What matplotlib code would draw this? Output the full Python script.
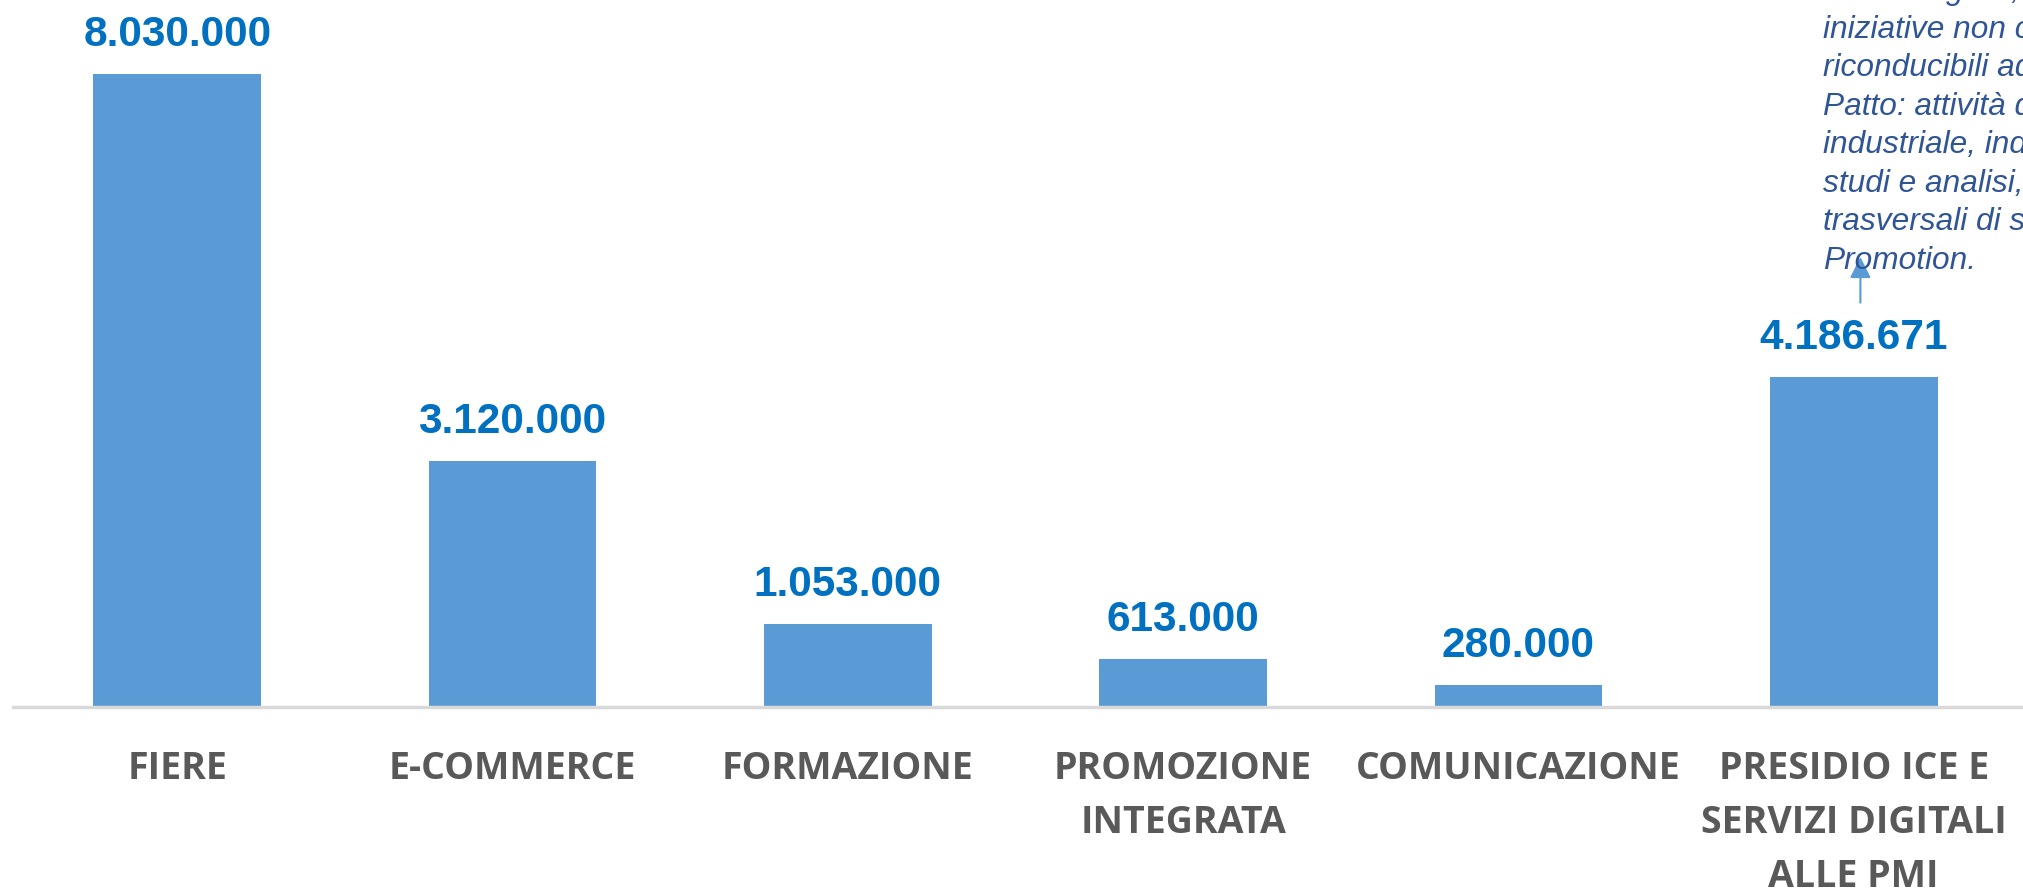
import matplotlib
matplotlib.use('Agg')
import matplotlib.pyplot as plt

categorie = ['FIERE', 'E-COMMERCE', 'FORMAZIONE', 'PROMOZIONE\nINTEGRATA',
             'COMUNICAZIONE', 'PRESIDIO ICE E\nSERVIZI DIGITALI\nALLE PMI']
valori = [8030000, 3120000, 1053000, 613000, 280000, 4186671]

nota = ('servizi digitali,\n'
        'iniziative non coperte da\n'
        'riconducibili ad altre\n'
        'Patto: attività di politica\n'
        'industriale, indagini,\n'
        'studi e analisi, attività\n'
        'trasversali di supporto alla\n'
        'Promotion.')

fig = plt.figure(figsize=(20.23, 8.91), dpi=100)
ax = fig.add_axes([13/2023, 184/891, 1 - 13/2023, 707/891])

x = range(len(valori))
ax.bar(x, valori, width=0.5, color='#5B9BD5', zorder=2)

for i, v in enumerate(valori):
    lab = f'{v:,}'.replace(',', '.')
    ax.annotate(lab, (i, v), xytext=(0, 20), textcoords='offset points',
                ha='center', va='baseline', fontsize=30.5, fontweight='bold',
                color='#0070C0', family='Liberation Sans', annotation_clip=False)

ax.set_xlim(-0.49, 5.505)
ax.set_ylim(0, 8.97e6)
ax.set_xticks(list(x))
ax.set_xticklabels(categorie, fontsize=27, fontweight='bold', color='#595959',
                   family='Open Sans', linespacing=1.55)
ax.tick_params(axis='x', length=0, pad=31)
ax.set_yticks([])
for s in ['top', 'left', 'right']:
    ax.spines[s].set_visible(False)
ax.spines['bottom'].set_color('#D9D9D9')
ax.spines['bottom'].set_linewidth(2.5)

# nota in alto a destra con freccia
ax.annotate('', xy=(5.02, 5.71e6), xytext=(5.02, 5.13e6),
            arrowprops=dict(arrowstyle='-|>', color='#5B9BD5', lw=1.5,
                            mutation_scale=32, shrinkA=0, shrinkB=0),
            annotation_clip=False)
fig.text(1823/2023, (891 - 276)/891, nota, ha='left', va='bottom',
         fontsize=22.8, style='italic', color='#2F5597', family='Liberation Sans',
         linespacing=1.37)

fig.savefig('out.png', dpi=100)
